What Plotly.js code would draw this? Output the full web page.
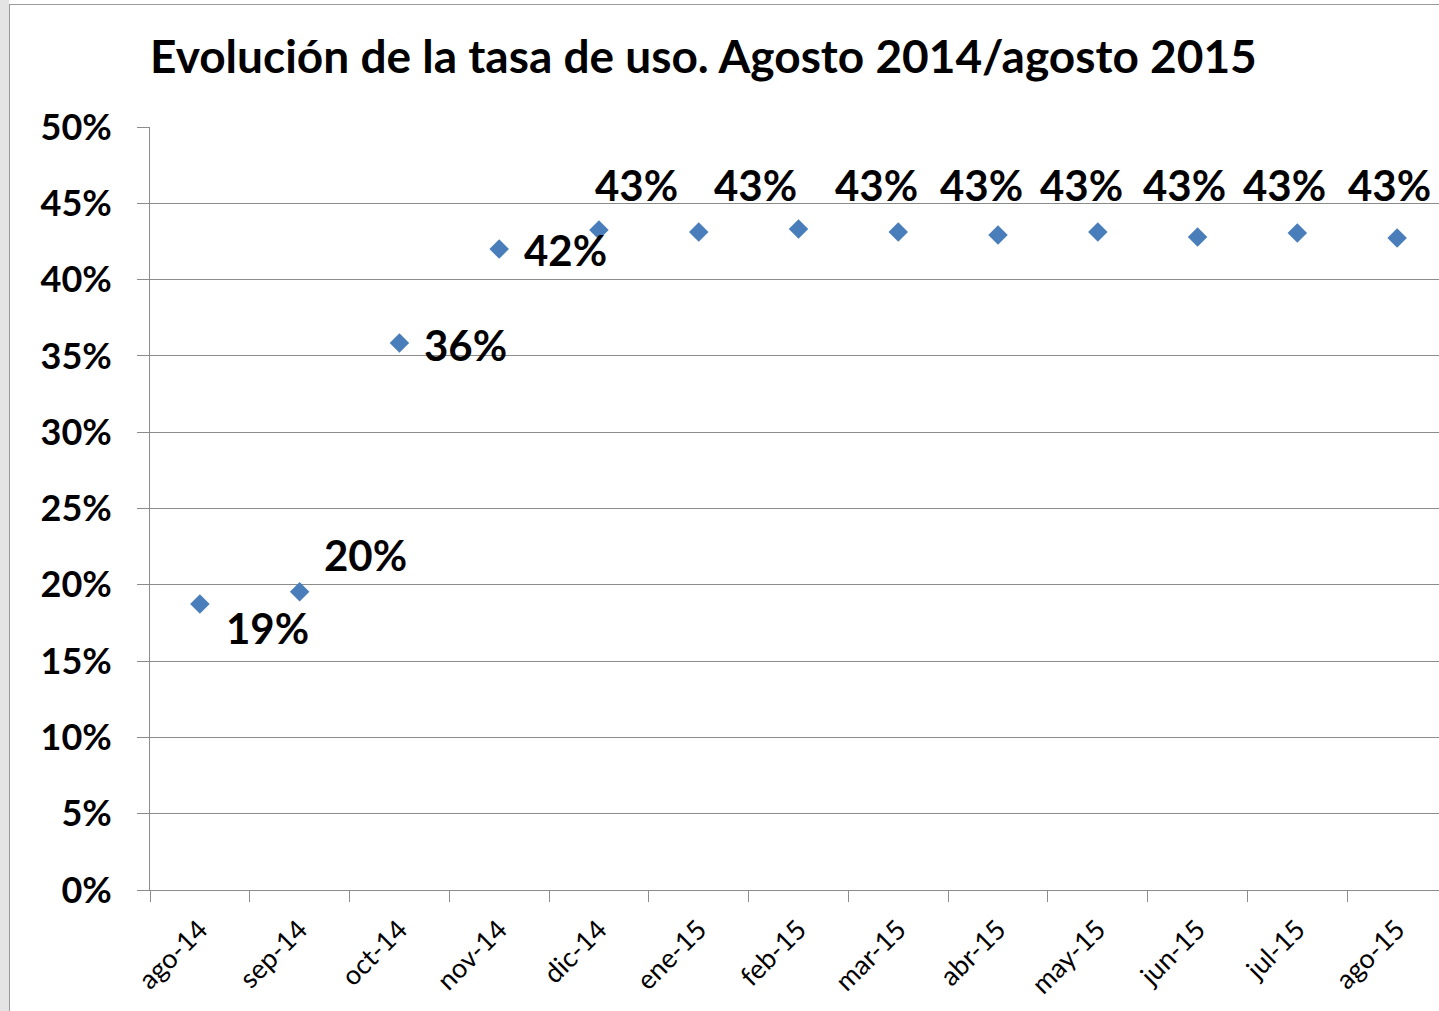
<!DOCTYPE html>
<html>
<head>
<meta charset="utf-8">
<script src="https://cdn.plot.ly/plotly-3.0.1.min.js"></script>
<style>
  html, body { margin: 0; padding: 0; background: #ffffff; }
  #strip { position: absolute; left: 0; top: 0; width: 9px; height: 1011px; background: #e4e4e4; }
  #frame { position: absolute; left: 9px; top: 4px; width: 1430px; height: 1007px;
           border-left: 1px solid #9a9a9a; border-top: 1px solid #9a9a9a; box-sizing: border-box; }
  #chart { position: absolute; left: 0; top: 0; width: 1439px; height: 1011px; }
</style>
</head>
<body>
<div id="strip"></div>
<div id="frame"></div>
<div id="chart"></div>
<script>
// ---- data ----
const months = ["ago-14","sep-14","oct-14","nov-14","dic-14","ene-15","feb-15","mar-15","abr-15","may-15","jun-15","jul-15","ago-15"];
const usageRate = [0.1874, 0.1955, 0.3585, 0.4200, 0.4325, 0.4312, 0.4332, 0.4312, 0.4292, 0.4312, 0.4279, 0.4305, 0.4273];
const yTickValues = [0, 0.05, 0.10, 0.15, 0.20, 0.25, 0.30, 0.35, 0.40, 0.45, 0.50];
const titleText = "Evolución de la tasa de uso. Agosto 2014/agosto 2015";

// label placement (pixel offsets from each point), not data
const labelShift = [
  [68, -24], [66, 37], [66, -2], [66, -1],
  null, [-62, 47], [-43, 44], [-22, 47], [-17, 50], [-16, 47], [-13, 52], [-13, 48], [-8, 53]
];

const markerColor = "#4a7ebb";
const gridColor = "#8c8c8c";
const fontFamily = "Lato, 'Open Sans', sans-serif";

const annotations = [];
usageRate.forEach((v, i) => {
  const s = labelShift[i];
  if (!s) return;
  annotations.push({
    x: months[i], y: v, xref: "x", yref: "y",
    text: Math.round(v * 100) + "%",
    showarrow: false,
    xanchor: "center", yanchor: "middle",
    xshift: s[0], yshift: s[1],
    font: { family: fontFamily, size: 42, color: "#000000", weight: 700 }
  });
});

const trace = {
  type: "scatter",
  mode: "markers",
  x: months,
  y: usageRate,
  marker: { symbol: "diamond", size: 15, color: markerColor, line: { width: 0 } },
  cliponaxis: false,
  hoverinfo: "skip"
};

const layout = {
  width: 1439,
  height: 1011,
  paper_bgcolor: "rgba(0,0,0,0)",
  plot_bgcolor: "rgba(0,0,0,0)",
  margin: { l: 150, r: 0, t: 127, b: 121 },
  showlegend: false,
  title: {
    text: titleText,
    xref: "paper", x: 0, xanchor: "left",
    yref: "container", y: 1 - 57 / 1011, yanchor: "middle",
    font: { family: fontFamily, size: 46, color: "#000000", weight: 700 }
  },
  xaxis: {
    type: "category",
    categoryorder: "array",
    categoryarray: months,
    range: [-0.5, 12.42],
    tickson: "boundaries",
    ticks: "outside",
    ticklen: 11,
    tickcolor: gridColor,
    tickwidth: 1,
    showgrid: false,
    showline: true,
    linecolor: gridColor,
    linewidth: 1,
    zeroline: false,
    tickangle: -45,
    ticklabelstandoff: 12,
    tickfont: { family: fontFamily, size: 27, color: "#000000" },
    fixedrange: true
  },
  yaxis: {
    range: [0, 0.5],
    tickvals: yTickValues,
    tickformat: ".0%",
    ticks: "outside",
    ticklen: 12,
    tickcolor: gridColor,
    tickwidth: 1,
    showgrid: true,
    gridcolor: gridColor,
    gridwidth: 1,
    showline: true,
    linecolor: gridColor,
    linewidth: 1,
    zeroline: false,
    ticklabelstandoff: 18,
    tickfont: { family: fontFamily, size: 36, color: "#000000", weight: 700 },
    fixedrange: true
  },
  annotations: annotations
};

Plotly.newPlot("chart", [trace], layout, { displayModeBar: false, staticPlot: true });
</script>
</body>
</html>
